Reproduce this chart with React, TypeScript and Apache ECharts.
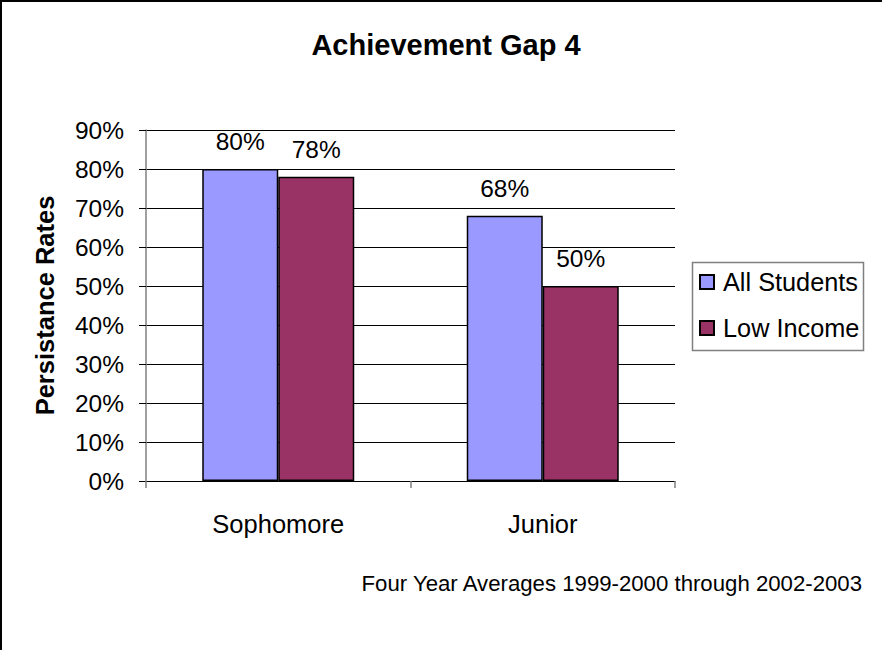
import React, { useEffect, useRef } from "react";
import * as echarts from "echarts";

const categories = ["Sophomore", "Junior"];
const seriesNames = ["All Students", "Low Income"];
const allStudents = [80, 68];
const lowIncome = [78, 50];
const seriesColors = ["#9999FF", "#993366"];
const titleText = "Achievement Gap 4";
const yAxisTitle = "Persistance Rates";
const footnote = "Four Year Averages 1999-2000 through 2002-2003";
const yMin = 0;
const yMax = 90;
const yStep = 10;

const FONT = "'Liberation Sans', Arial, sans-serif";

export default function App() {
  const ref = useRef<HTMLDivElement>(null);
  useEffect(() => {
    if (!ref.current) return;
    const chart = echarts.init(ref.current, null, { renderer: "svg" });
    const mkSeries = (name: string, data: number[], color: string) => ({
      name,
      type: "bar",
      data,
      barWidth: 76,
      barGap: "0%",
      itemStyle: { color, borderColor: "#000", borderWidth: 1.5 },
      label: {
        show: true,
        position: "top",
        distance: 15,
        formatter: "{c}%",
        color: "#000",
        fontFamily: FONT,
        fontSize: 24.5,
      },
    });
    chart.setOption({
      animation: false,
      backgroundColor: "#fff",
      textStyle: { fontFamily: FONT },
      grid: { left: 146, right: 207, top: 130, bottom: 169, containLabel: false },
      legend: {
        orient: "vertical",
        left: 699,
        top: 269,
        padding: 0,
        itemWidth: 14,
        itemHeight: 14,
        itemGap: 20,
        icon: "rect",
        data: seriesNames,
        textStyle: { fontFamily: FONT, fontSize: 25.3, color: "#000", padding: [0, 0, 0, 4], lineHeight: 26 },
      },
      xAxis: {
        type: "category",
        data: categories,
        axisLine: { lineStyle: { color: "#000", width: 1 } },
        axisTick: { show: true, length: 7, lineStyle: { color: "#808080", width: 1.5 } },
        axisLabel: { color: "#000", fontFamily: FONT, fontSize: 25.5, margin: 30 },
      },
      yAxis: {
        type: "value",
        min: yMin,
        max: yMax,
        interval: yStep,
        name: yAxisTitle,
        nameLocation: "middle",
        nameGap: 88,
        nameTextStyle: { color: "#000", fontFamily: FONT, fontSize: 25.5, fontWeight: "bold" },
        axisLine: { show: true, lineStyle: { color: "#808080", width: 1.5 } },
        axisTick: { show: true, length: 7, lineStyle: { color: "#000", width: 1 } },
        axisLabel: { color: "#000", fontFamily: FONT, fontSize: 24.5, margin: 22, formatter: "{value}%" },
        splitLine: { show: true, lineStyle: { color: "#000", width: 1 } },
      },
      series: [
        mkSeries(seriesNames[0], allStudents, seriesColors[0]),
        mkSeries(seriesNames[1], lowIncome, seriesColors[1]),
      ],
      graphic: [
        {
          type: "rect",
          shape: { x: 1, y: 1, width: 1000, height: 1000 },
          style: { fill: "none", stroke: "#000", lineWidth: 2 },
          silent: true,
          z: 100,
        },
        {
          type: "rect",
          shape: { x: 692.5, y: 262.5, width: 171, height: 88 },
          style: { fill: "none", stroke: "#808080", lineWidth: 1.5 },
          silent: true,
        },
        {
          type: "text",
          x: 446,
          y: 45,
          style: {
            text: titleText,
            fontFamily: FONT,
            fontSize: 29,
            fontWeight: "bold",
            fill: "#000",
            align: "center",
            verticalAlign: "middle",
          },
        },
        {
          type: "text",
          x: 862,
          y: 583,
          style: {
            text: footnote,
            fontFamily: FONT,
            fontSize: 22.2,
            fill: "#000",
            align: "right",
            verticalAlign: "middle",
          },
        },
      ],
    });
    return () => chart.dispose();
  }, []);
  return (
    <div
      ref={ref}
      style={{ position: "fixed", left: 0, top: 0, width: 882, height: 650, background: "#fff" }}
    />
  );
}
